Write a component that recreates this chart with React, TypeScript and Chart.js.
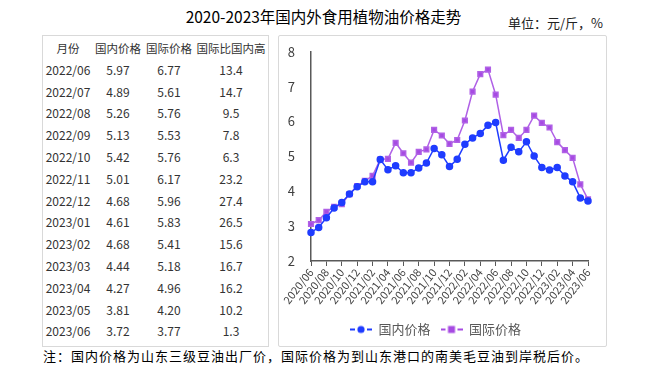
import React, { useEffect, useRef } from "react";
import { Chart, registerables } from "chart.js";
Chart.register(...registerables);

const chartLabels = [
  "2020/06","2020/07","2020/08","2020/09","2020/10","2020/11","2020/12",
  "2021/01","2021/02","2021/03","2021/04","2021/05","2021/06","2021/07","2021/08","2021/09","2021/10","2021/11","2021/12",
  "2022/01","2022/02","2022/03","2022/04","2022/05","2022/06","2022/07","2022/08","2022/09","2022/10","2022/11","2022/12",
  "2023/01","2023/02","2023/03","2023/04","2023/05","2023/06",
];
const domesticPrice = [
  2.82, 2.96, 3.24, 3.52, 3.68, 3.92, 4.13,
  4.27, 4.27, 4.91, 4.62, 4.73, 4.53, 4.53, 4.67, 4.81, 5.23, 5.05, 4.71,
  4.92, 5.35, 5.53, 5.66, 5.89, 5.97, 4.89, 5.26, 5.13, 5.42, 5.01, 4.68,
  4.61, 4.68, 4.44, 4.27, 3.81, 3.72,
];
const intlPrice = [
  3.06, 3.17, 3.41, 3.55, 3.63, 3.92, 4.15,
  4.30, 4.44, 4.91, 4.93, 5.39, 5.09, 4.82, 5.13, 5.20, 5.76, 5.60, 5.36,
  5.47, 6.03, 6.86, 7.36, 7.49, 6.77, 5.61, 5.76, 5.53, 5.76, 6.17, 5.96,
  5.83, 5.41, 5.18, 4.96, 4.20, 3.77,
];

const tableHeaders = ["月份", "国内价格", "国际价格", "国际比国内高"];
const tableMonths = ["2022/06","2022/07","2022/08","2022/09","2022/10","2022/11","2022/12","2023/01","2023/02","2023/03","2023/04","2023/05","2023/06"];
const tableDomestic = ["5.97","4.89","5.26","5.13","5.42","5.01","4.68","4.61","4.68","4.44","4.27","3.81","3.72"];
const tableIntl = ["6.77","5.61","5.76","5.53","5.76","6.17","5.96","5.83","5.41","5.18","4.96","4.20","3.77"];
const tablePct = ["13.4","14.7","9.5","7.8","6.3","23.2","27.4","26.5","15.6","16.7","16.2","10.2","1.3"];

const seriesNames = ["国内价格", "国际价格"];
const titleText = "2020-2023年国内外食用植物油价格走势";
const unitText = "单位：元/斤，%";
const noteText = "注：国内价格为山东三级豆油出厂价，国际价格为到山东港口的南美毛豆油到岸税后价。";

const BLUE = "#1f3cff";
const PURPLE = "#a64ae2";
const FONT = "'Noto Sans CJK SC', 'Noto Sans', sans-serif";

function makeIcon(color: string, square: boolean) {
  const c = document.createElement("canvas");
  c.width = 22;
  c.height = 10;
  const ctx = c.getContext("2d")!;
  ctx.strokeStyle = color;
  ctx.lineWidth = 2;
  ctx.beginPath();
  ctx.moveTo(0, 5); ctx.lineTo(5, 5);
  ctx.moveTo(17, 5); ctx.lineTo(22, 5);
  ctx.stroke();
  ctx.fillStyle = color;
  if (square) ctx.fillRect(7.5, 1.5, 7, 7);
  else { ctx.beginPath(); ctx.arc(11, 5, 3.6, 0, Math.PI * 2); ctx.fill(); }
  return c;
}

function LineChart() {
  const ref = useRef<HTMLCanvasElement>(null);
  useEffect(() => {
    const icons = [makeIcon(BLUE, false), makeIcon(PURPLE, true)];
    const chart = new Chart(ref.current!, {
      type: "line",
      data: {
        labels: chartLabels,
        datasets: [
          {
            label: seriesNames[0], data: domesticPrice, borderColor: BLUE, backgroundColor: BLUE,
            pointStyle: "circle", pointRadius: 3, borderWidth: 1.5, tension: 0,
          },
          {
            label: seriesNames[1], data: intlPrice, borderColor: "#b061e6", backgroundColor: PURPLE,
            pointStyle: "rect", pointRadius: 3.3, borderWidth: 1.5, tension: 0,
          },
        ],
      },
      options: {
        animation: false,
        responsive: false,
        layout: { padding: { left: 4, right: 17, top: 14, bottom: 0 } },
        scales: {
          x: {
            grid: { display: true, drawOnChartArea: false, drawTicks: true, tickLength: 5, color: "#595959", lineWidth: 1 },
            border: { display: true, color: "#595959", width: 1.5 },
            ticks: {
              autoSkip: false, maxRotation: 52, minRotation: 52, padding: 0,
              color: "#404040", font: { size: 11, family: FONT },
              callback: (_v: any, i: number) => (i % 2 === 0 ? chartLabels[i] : null),
            },
            afterFit: (s: any) => { s.height = 52; },
          },
          y: {
            min: 2, max: 8,
            grid: { display: false },
            border: { display: true, color: "#595959", width: 1.5 },
            ticks: { stepSize: 1, padding: 8, color: "#404040", font: { size: 13, family: FONT } },
            afterFit: (s: any) => { s.width = 28; },
          },
        },
        plugins: {
          legend: {
            position: "bottom",
            labels: {
              usePointStyle: true, pointStyleWidth: 22, padding: 10,
              color: "#595959", font: { size: 13, family: FONT },
              generateLabels: (ch: any) => {
                const items = Chart.defaults.plugins.legend.labels.generateLabels(ch);
                return items.map((it: any, i: number) => ({ ...it, pointStyle: icons[i] }));
              },
            },
          },
          tooltip: { enabled: false },
        },
      },
    });
    return () => chart.destroy();
  }, []);
  return <canvas ref={ref} width={326} height={310} style={{ display: "block" }} />;
}

export default function App() {
  const colCenters = [67, 117, 168, 230];
  const rowTop = 47;
  const rowH = 21.8;
  const cell = (text: string, x: number, y: number, key: string, fs?: number) => (
    <div key={key} style={{ position: "absolute", left: x - 50, width: 100, top: y - 9, height: 18, lineHeight: "18px", textAlign: "center", whiteSpace: "nowrap", fontSize: fs }}>{text}</div>
  );
  const cells: any[] = [];
  tableHeaders.forEach((h, c) => cells.push(cell(h, colCenters[c] - 42, rowTop - 35, "h" + c, 11.5)));
  tableMonths.forEach((m, r) => {
    const y = rowTop + rowH * (r + 1) - 35;
    cells.push(cell(m, colCenters[0] - 42, y, "m" + r));
    cells.push(cell(tableDomestic[r], colCenters[1] - 42, y, "d" + r));
    cells.push(cell(tableIntl[r], colCenters[2] - 42, y, "i" + r));
    cells.push(cell(tablePct[r], colCenters[3] - 42, y, "p" + r));
  });
  return (
    <div style={{ position: "absolute", left: 0, top: 0, width: 647, height: 372, background: "#fff", fontFamily: FONT, overflow: "hidden" }}>
      <div style={{ position: "absolute", left: 0, width: 647, top: 5, textAlign: "center", fontSize: 15.5, lineHeight: "22px", color: "#000" }}>{titleText}</div>
      <div style={{ position: "absolute", left: 508, top: 13, fontSize: 13, lineHeight: "20px", color: "#222" }}>{unitText}</div>
      <div style={{ position: "absolute", left: 42, top: 35, width: 225, height: 310, border: "1px solid #d9d9d9", fontSize: 12, color: "#333" }}>
        {cells}
      </div>
      <div style={{ position: "absolute", left: 278, top: 35, width: 327, height: 310, border: "1px solid #d9d9d9", borderRadius: 2 }}>
        <LineChart />
      </div>
      <div style={{ position: "absolute", left: 43, top: 346, fontSize: 13, lineHeight: "20px", letterSpacing: 1, color: "#000", whiteSpace: "nowrap" }}>{noteText}</div>
    </div>
  );
}
